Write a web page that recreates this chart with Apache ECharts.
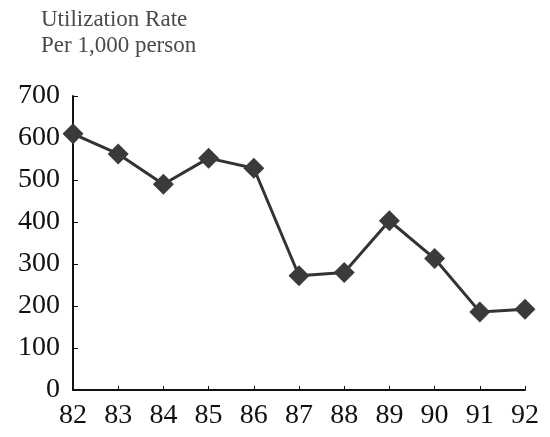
<!DOCTYPE html>
<html>
<head>
<meta charset="utf-8">
<script src="https://cdn.jsdelivr.net/npm/echarts@6/dist/echarts.min.js"></script>
<style>html,body{margin:0;padding:0;background:#fff}#c{width:550px;height:437px}</style>
</head>
<body>
<div id="c"></div>
<script>
var years = ['82','83','84','85','86','87','88','89','90','91','92'];
var rates = [610, 562, 490, 552, 528, 272, 280, 403, 313, 186, 192];
var yTicks = [0, 100, 200, 300, 400, 500, 600, 700];
var titleLines = ['Utilization Rate', 'Per 1,000 person'];

var chart = echarts.init(document.getElementById('c'));
chart.setOption({
  animation: false,
  backgroundColor: '#fff',
  title: {
    text: titleLines.join('\n'),
    left: 36, top: 2,
    textStyle: {fontFamily: 'Liberation Serif', fontSize: 23, fontWeight: 'normal', color: '#4a4a4a', lineHeight: 26}
  },
  grid: {left: 73, right: 25, top: 96, bottom: 47},
  xAxis: {
    type: 'category', data: years, boundaryGap: false,
    axisLine: {lineStyle: {color: '#111', width: 2}},
    axisTick: {inside: true, length: 4, lineStyle: {color: '#111'}},
    axisLabel: {fontFamily: 'Liberation Serif', fontSize: 28, color: '#111', margin: 12}
  },
  yAxis: {
    type: 'value', min: yTicks[0], max: yTicks[yTicks.length-1], interval: 100,
    splitLine: {show: false},
    axisLine: {show: true, lineStyle: {color: '#111', width: 2}},
    axisTick: {show: true, inside: true, length: 5, lineStyle: {color: '#111'}},
    axisLabel: {fontFamily: 'Liberation Serif', fontSize: 28, color: '#111', margin: 13}
  },
  series: [{
    type: 'line', data: rates,
    symbol: 'diamond', symbolSize: 21,
    lineStyle: {color: '#333', width: 3},
    itemStyle: {color: '#3a3a3a'}
  }]
});
</script>
</body>
</html>
